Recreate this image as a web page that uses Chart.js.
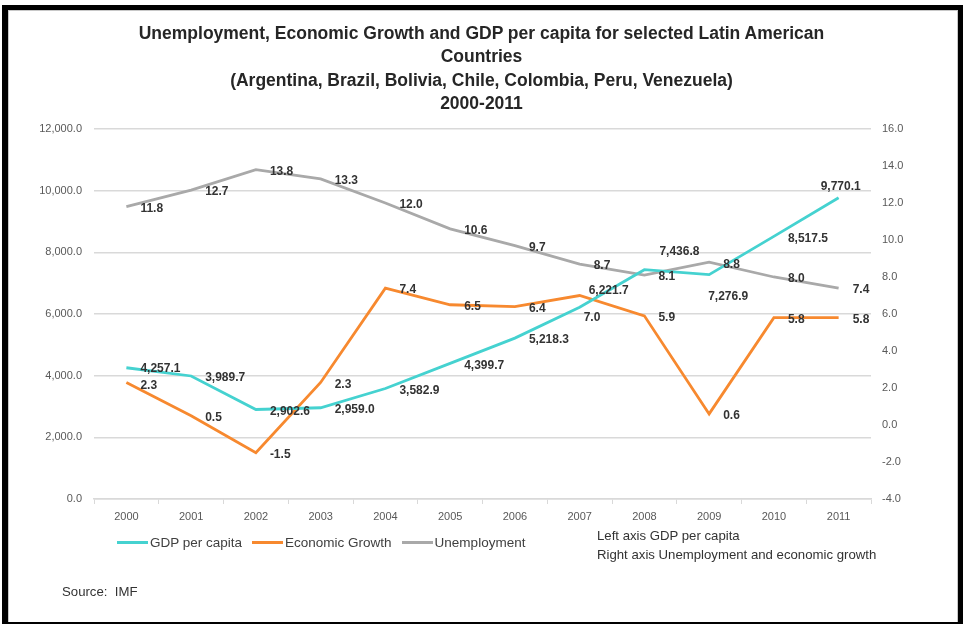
<!DOCTYPE html>
<html>
<head>
<meta charset="utf-8">
<script src="https://cdn.jsdelivr.net/npm/chart.js@4.4.1/dist/chart.umd.min.js"></script>
<style>
  html, body { margin: 0; padding: 0; background: #fff; }
  body { width: 963px; height: 624px; position: relative; overflow: hidden; font-family: 'Liberation Sans', Arial, sans-serif; }
  #frame { position: absolute; left: 2px; top: 5px; width: 961px; height: 619px; box-sizing: border-box;
           border-style: solid; border-color: #000; border-width: 5px 5px 2px 6px; }
  #frame::after { content: ''; position: absolute; left: 0; top: 0; right: 0; bottom: 0; border: 1px solid #c8c8c8; border-bottom: none; }
  #wrap { position: absolute; left: 0; top: 0; width: 963px; height: 624px; }
  .title { position: absolute; left: 0; width: 963px; text-align: center; font-weight: bold; font-size: 17.5px; color: #262626; line-height: 20px; }
  #legend { position: absolute; left: 117px; top: 535px; display: flex; align-items: center; font-size: 13.5px; color: #404040; }
  .item { display: flex; align-items: center; margin-right: 10px; }
  .swatch { width: 31px; height: 3px; margin-right: 2px; }
  .note { position: absolute; font-size: 13.2px; color: #333; white-space: nowrap; }
</style>
</head>
<body>
<div id="wrap"><canvas id="c" width="963" height="624"></canvas></div>
<div class="title" id="t1" style="top:23px"></div>
<div class="title" id="t2" style="top:46px"></div>
<div class="title" id="t3" style="top:70px"></div>
<div class="title" id="t4" style="top:93px"></div>
<div id="legend"></div>
<div class="note" style="left:597px; top:528px">Left axis GDP per capita</div>
<div class="note" style="left:597px; top:547px">Right axis Unemployment and economic growth</div>
<div class="note" style="left:62px; top:584px">Source:&nbsp; IMF</div>
<div id="frame"></div>
<script>
// Years on the category axis
const years = ['2000','2001','2002','2003','2004','2005','2006','2007','2008','2009','2010','2011'];

// GDP per capita (left axis, US$)
const gdpPerCapita = [4257.1, 3989.7, 2902.6, 2959.0, 3582.9, 4399.7, 5218.3, 6221.7, 7436.8, 7276.9, 8517.5, 9770.1];

// Economic growth, % (right axis)
const economicGrowth = [2.3, 0.5, -1.5, 2.3, 7.4, 6.5, 6.4, 7.0, 5.9, 0.6, 5.8, 5.8];

// Unemployment rate, % (right axis)
const unemployment = [11.8, 12.7, 13.8, 13.3, 12.0, 10.6, 9.7, 8.7, 8.1, 8.8, 8.0, 7.4];

// Axis ranges and tick steps
const leftAxis = { min: 0, max: 12000, step: 2000 };
const rightAxis = { min: -4, max: 16, step: 2 };

const titleLines = [
  'Unemployment, Economic Growth and GDP per capita for selected Latin American',
  'Countries',
  '(Argentina, Brazil, Bolivia, Chile, Colombia, Peru, Venezuela)',
  '2000-2011'
];
['t1','t2','t3','t4'].forEach((id, i) => { document.getElementById(id).textContent = titleLines[i]; });

const seriesNames = ['GDP per capita', 'Economic Growth', 'Unemployment'];
const seriesColors = ['#45d2d0', '#f7892f', '#a9a9a9'];

// Value label placement: [dx, dy] from the point, by series then year
const DEF = [14, 2];
const labelShift = [
  [[14,1],DEF,DEF,DEF,DEF,DEF,DEF,[9,-16],[15,-18],[-1,22],DEF,[-18,-11]],
  [[14,3],DEF,DEF,DEF,DEF,DEF,DEF,[4,22],DEF,DEF,DEF,DEF],
  [DEF,DEF,DEF,DEF,DEF,DEF,DEF,DEF,DEF,DEF,DEF,DEF]
];

const fmt1 = v => Number(v).toLocaleString('en-US', { minimumFractionDigits: 1, maximumFractionDigits: 1 });

const valueLabels = {
  id: 'valueLabels',
  afterDatasetsDraw(chart) {
    const ctx = chart.ctx;
    ctx.save();
    ctx.font = 'bold 12px "Liberation Sans", Arial, sans-serif';
    ctx.fillStyle = '#333333';
    ctx.textAlign = 'left';
    ctx.textBaseline = 'middle';
    chart.data.datasets.forEach((ds, di) => {
      const meta = chart.getDatasetMeta(di);
      meta.data.forEach((pt, i) => {
        const s = labelShift[di][i];
        ctx.fillText(fmt1(ds.data[i]), pt.x + s[0], pt.y + s[1]);
      });
    });
    ctx.restore();
  }
};

// Legend drawn beneath the plot
const legendEl = document.getElementById('legend');
seriesNames.forEach((n, i) => {
  const it = document.createElement('div'); it.className = 'item';
  const sw = document.createElement('div'); sw.className = 'swatch'; sw.style.background = seriesColors[i];
  const tx = document.createElement('span'); tx.textContent = n;
  it.appendChild(sw); it.appendChild(tx); legendEl.appendChild(it);
});

const tickFont = { family: '"Liberation Sans", Arial, sans-serif', size: 11 };
const gridColor = '#d9d9d9';

new Chart(document.getElementById('c'), {
  type: 'line',
  data: {
    labels: years,
    datasets: [
      { label: seriesNames[0], data: gdpPerCapita, yAxisID: 'yL', borderColor: seriesColors[0], backgroundColor: seriesColors[0] },
      { label: seriesNames[1], data: economicGrowth, yAxisID: 'yR', borderColor: seriesColors[1], backgroundColor: seriesColors[1] },
      { label: seriesNames[2], data: unemployment, yAxisID: 'yR', borderColor: seriesColors[2], backgroundColor: seriesColors[2] }
    ]
  },
  options: {
    responsive: false,
    animation: false,
    devicePixelRatio: 1,
    elements: { line: { borderWidth: 2.8, tension: 0 }, point: { radius: 0, hoverRadius: 0 } },
    layout: { padding: { left: 34, right: 42, top: 129, bottom: 95 } },
    plugins: { legend: { display: false }, title: { display: false }, tooltip: { enabled: false } },
    scales: {
      x: {
        offset: true,
        grid: { display: true, drawOnChartArea: false, offset: true, tickLength: 5, color: gridColor, lineWidth: 1 },
        border: { display: true, color: gridColor, width: 1.5 },
        ticks: { font: tickFont, color: '#595959', padding: 6, maxRotation: 0 },
        afterFit(s) { s.height = 30; }
      },
      yL: {
        position: 'left',
        min: leftAxis.min, max: leftAxis.max,
        grid: { color: gridColor, lineWidth: 1.5, drawTicks: false },
        border: { display: false },
        ticks: { stepSize: leftAxis.step, font: tickFont, color: '#595959', padding: 12, callback: v => fmt1(v) },
        afterFit(s) { s.width = 60; }
      },
      yR: {
        position: 'right',
        min: rightAxis.min, max: rightAxis.max,
        grid: { drawOnChartArea: false, drawTicks: false },
        border: { display: false },
        ticks: { stepSize: rightAxis.step, font: tickFont, color: '#595959', padding: 11, callback: v => Number(v).toFixed(1) },
        afterFit(s) { s.width = 50; }
      }
    }
  },
  plugins: [valueLabels]
});
</script>
</body>
</html>
